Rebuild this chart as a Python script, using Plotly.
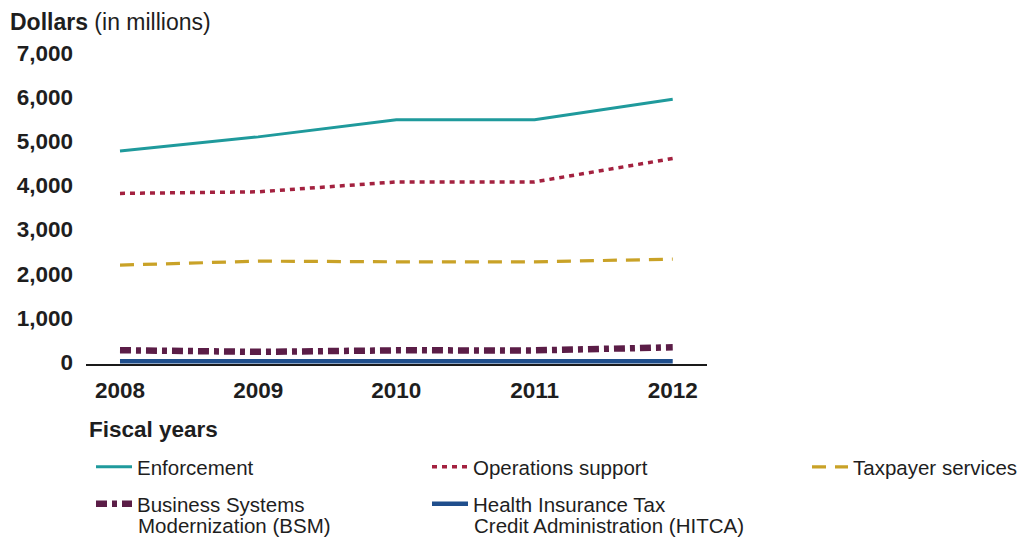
import plotly.graph_objects as go

years = [2008, 2009, 2010, 2011, 2012]
enforcement = [4780, 5100, 5490, 5490, 5950]
operations_support = [3820, 3855, 4080, 4080, 4610]
taxpayer_services = [2195, 2285, 2270, 2270, 2330]
bsm = [267, 230, 264, 263, 333]
hitca = [15, 15, 16, 18, 18]

y_tick_vals = [0, 1000, 2000, 3000, 4000, 5000, 6000, 7000]
y_tick_text = ["0", "1,000", "2,000", "3,000", "4,000", "5,000", "6,000", "7,000"]

FONT = "Liberation Sans, Arial, sans-serif"
TXT = "#1e1e1e"

# name (first legend line), second legend line, values, line style, legend id
series = [
    ("Enforcement", None, enforcement, dict(color="#1f9a9c", width=3, dash="solid"), "legend"),
    ("Operations support", None, operations_support, dict(color="#a3213f", width=3.5, dash="5px,5px"), "legend2"),
    ("Taxpayer services", None, taxpayer_services, dict(color="#c9a227", width=3.2, dash="14px,9px"), "legend3"),
    ("Business Systems", "Modernization (BSM)", bsm, dict(color="#5b1d47", width=6.5, dash="11px,5px,5px,5px"), "legend4"),
    ("Health Insurance Tax", "Credit Administration (HITCA)", hitca, dict(color="#1f4e8c", width=4.5, dash="solid"), "legend5"),
]

W, H = 1025, 538
OFF = 8  # page body margin offset of the figure


def fx(screen_x):
    return screen_x - OFF


def fy(screen_y):
    return screen_y - OFF


# plot area in screen pixels: x 86..707, y 45..364
L = fx(86)
R = W - fx(707)
T = fy(45)
B = H - fy(364)
pw = W - L - R
ph = H - T - B


def px_to_paper_x(sx):
    return (fx(sx) - L) / pw


def px_to_paper_y(sy):
    return (H - B - fy(sy)) / ph


fig = go.Figure()
for name, line2, vals, line, lg in series:
    full = name if line2 is None else name + " " + line2
    fig.add_trace(go.Scatter(x=years, y=vals, mode="lines", name=name, line=line,
                             legend=lg, hovertemplate=full + ": %{y}<extra>%{x}</extra>"))

ITEMW = 36
legend_common = dict(font=dict(family=FONT, size=20.5, color=TXT), bgcolor="rgba(0,0,0,0)",
                     xanchor="left", yanchor="middle", valign="middle", itemwidth=ITEMW,
                     borderwidth=0)

TEXT_X1, TEXT_X2, TEXT_X3 = 137, 473, 853
TEXT_OFF = 2 * 5 + ITEMW
ROW1, ROW2, ROW2B = 467, 504, 525

annotations = [dict(text="<b>Fiscal years</b>", xref="paper", yref="paper",
                    x=px_to_paper_x(87), y=px_to_paper_y(429), xanchor="left", yanchor="middle",
                    showarrow=False, font=dict(family=FONT, size=22.5, color=TXT))]
# second lines of two-line legend labels
for name, line2, vals, line, lg in series:
    if line2 is not None:
        tx = TEXT_X1 if lg == "legend4" else TEXT_X2
        annotations.append(dict(text=line2, xref="paper", yref="paper",
                                x=px_to_paper_x(tx - 1), y=px_to_paper_y(ROW2B),
                                xanchor="left", yanchor="middle", showarrow=False,
                                font=dict(family=FONT, size=20.5, color=TXT)))

fig.update_layout(
    width=W, height=H,
    margin=dict(l=L, r=R, t=T, b=B, pad=0, autoexpand=False),
    paper_bgcolor="white", plot_bgcolor="white",
    font=dict(family=FONT, color=TXT),
    showlegend=True,
    title=dict(text="<b>Dollars</b> (in millions)", font=dict(family=FONT, size=23, color=TXT),
               xref="container", yref="container", x=fx(10) / W, xanchor="left",
               y=1 - fy(22) / H, yanchor="middle", automargin=False),
    xaxis=dict(range=[2007.754, 2012.248], tickvals=years, ticktext=[str(y) for y in years],
               showgrid=False, zeroline=False, showline=True, linecolor="#1a1a1a", linewidth=2,
               ticks="", ticklabelstandoff=5, automargin=False,
               tickfont=dict(family=FONT, size=22.5, color=TXT, weight="bold")),
    yaxis=dict(range=[-45, 7181], tickvals=y_tick_vals, ticktext=y_tick_text,
               showgrid=False, zeroline=False, showline=False, ticks="", ticklabelstandoff=12,
               automargin=False,
               tickfont=dict(family=FONT, size=22.5, color=TXT, weight="bold")),
    legend=dict(x=px_to_paper_x(TEXT_X1 - TEXT_OFF), y=px_to_paper_y(ROW1), **legend_common),
    legend2=dict(x=px_to_paper_x(TEXT_X2 - TEXT_OFF), y=px_to_paper_y(ROW1), **legend_common),
    legend3=dict(x=px_to_paper_x(TEXT_X3 - TEXT_OFF), y=px_to_paper_y(ROW1), **legend_common),
    legend4=dict(x=px_to_paper_x(TEXT_X1 - TEXT_OFF), y=px_to_paper_y(ROW2), **legend_common),
    legend5=dict(x=px_to_paper_x(TEXT_X2 - TEXT_OFF), y=px_to_paper_y(ROW2), **legend_common),
    annotations=annotations,
)

fig.write_html("out.html")
